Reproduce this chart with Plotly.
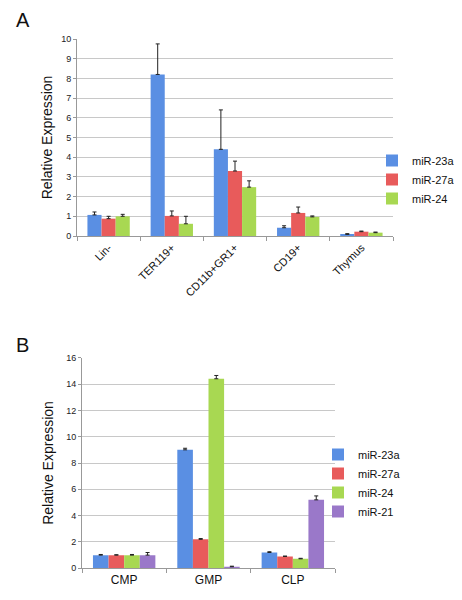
import plotly.graph_objects as go

# Panel A data
cats_a = ["Lin-", "TER119+", "CD11b+GR1+", "CD19+", "Thymus"]
mir23a_a = [1.07, 8.2, 4.4, 0.42, 0.08]
mir23a_a_err = [0.15, 1.55, 2.0, 0.1, 0.04]
mir27a_a = [0.88, 1.02, 3.3, 1.17, 0.22]
mir27a_a_err = [0.12, 0.25, 0.5, 0.3, 0.03]
mir24_a = [1.0, 0.62, 2.48, 0.97, 0.17]
mir24_a_err = [0.1, 0.38, 0.32, 0.05, 0.03]

# Panel B data
cats_b = ["CMP", "GMP", "CLP"]
mir23a_b = [1.0, 9.0, 1.2]
mir23a_b_err = [0.05, 0.12, 0.06]
mir27a_b = [1.0, 2.2, 0.9]
mir27a_b_err = [0.03, 0.06, 0.03]
mir24_b = [1.0, 14.4, 0.72]
mir24_b_err = [0.05, 0.25, 0.04]
mir21_b = [1.0, 0.12, 5.2]
mir21_b_err = [0.2, 0.04, 0.3]

colors = {"miR-23a": "#5a8fe3", "miR-27a": "#e85b5b", "miR-24": "#a8d852", "miR-21": "#9a78c9"}
FONT = "Liberation Sans, Arial, sans-serif"

fig = go.Figure()

def add_bar(x, y, err, name, xa, ya, legend, width=None, offset=None):
    fig.add_trace(go.Bar(
        x=x, y=y, name=name, xaxis=xa, yaxis=ya, legend=legend,
        width=width, offset=offset,
        marker=dict(color=colors[name], line=dict(width=0)),
        error_y=dict(type="data", array=err, arrayminus=[0]*len(err), symmetric=False,
                     color="#222222", thickness=1, width=2),
    ))

add_bar(cats_a, mir23a_a, mir23a_a_err, "miR-23a", "x", "y", "legend")
add_bar(cats_a, mir27a_a, mir27a_a_err, "miR-27a", "x", "y", "legend")
add_bar(cats_a, mir24_a, mir24_a_err, "miR-24", "x", "y", "legend")

bw = 0.185
add_bar(cats_b, mir23a_b, mir23a_b_err, "miR-23a", "x2", "y2", "legend2", bw, -2*bw)
add_bar(cats_b, mir27a_b, mir27a_b_err, "miR-27a", "x2", "y2", "legend2", bw, -bw)
add_bar(cats_b, mir24_b, mir24_b_err, "miR-24", "x2", "y2", "legend2", bw, 0)
add_bar(cats_b, mir21_b, mir21_b_err, "miR-21", "x2", "y2", "legend2", bw, bw)

# page body has an 8px margin; figure sized to fit the window
OFF = 8
W, H = 454, 592
def px(x):
    return (x - OFF) / W
def py(y):
    return 1 - (y - OFF) / H

ax_common = dict(showline=True, linecolor="#999999", linewidth=1, ticks="outside",
                 tickcolor="#999999", ticklen=4, tickson="boundaries", showgrid=False,
                 fixedrange=True, automargin=False)
ay_common = dict(showline=True, linecolor="#999999", linewidth=1, ticks="outside",
                 tickcolor="#999999", ticklen=3, showgrid=True, gridcolor="#c8c8c8",
                 gridwidth=1, zeroline=False, automargin=False,
                 tickfont=dict(size=9, color="#222222"))

fig.update_layout(
    width=W, height=H,
    margin=dict(l=0, r=0, t=0, b=0, autoexpand=False),
    paper_bgcolor="white", plot_bgcolor="white",
    font=dict(family=FONT, color="#111111"),
    barmode="group", bargroupgap=0, bargap=0.33,
    xaxis=dict(domain=[px(77), px(393)], anchor="y", tickangle=-45,
               tickfont=dict(size=11), **ax_common),
    yaxis=dict(domain=[py(236), py(39)], anchor="x", range=[0, 10], dtick=1,
               title=dict(text="Relative Expression", font=dict(size=14), standoff=5),
               **ay_common),
    xaxis2=dict(domain=[px(82), px(335)], anchor="y2", tickfont=dict(size=12), **ax_common),
    yaxis2=dict(domain=[py(568.3), py(357.7)], anchor="x2", range=[0, 16], dtick=2,
                title=dict(text="Relative Expression", font=dict(size=14), standoff=9),
                **ay_common),
    legend=dict(x=px(372), y=py(146), xanchor="left", yanchor="top",
                font=dict(size=11), itemwidth=30, tracegroupgap=0,
                bgcolor="rgba(0,0,0,0)"),
    legend2=dict(x=px(318), y=py(440), xanchor="left", yanchor="top",
                 font=dict(size=11), itemwidth=30, tracegroupgap=0,
                 bgcolor="rgba(0,0,0,0)"),
    showlegend=True,
    annotations=[
        dict(text="A", x=px(14), y=py(20), xref="paper", yref="paper", showarrow=False,
             xanchor="left", yanchor="middle", font=dict(size=20, color="#111111")),
        dict(text="B", x=px(14), y=py(345), xref="paper", yref="paper", showarrow=False,
             xanchor="left", yanchor="middle", font=dict(size=20, color="#111111")),
    ],
)
fig.write_html("out.html")
